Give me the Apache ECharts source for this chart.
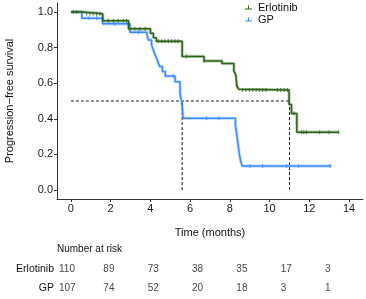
<!DOCTYPE html>
<html>
<head>
<meta charset="utf-8">
<script src="https://cdn.jsdelivr.net/npm/echarts@6/dist/echarts.min.js"></script>
<style>
  html, body { margin: 0; padding: 0; background: #fff; }
  #chart { width: 366px; height: 299px; }
</style>
</head>
<body>
<div id="chart"></div>
<script>
// Kaplan-Meier step points: [months, survival]
const erlotinibCurve = [
  [0, 1.0], [0.55, 0.99], [1.6, 0.95], [2.9, 0.905], [4.0, 0.88], [4.15, 0.855],
  [4.3, 0.835], [5.6, 0.75], [6.7, 0.725], [7.6, 0.71], [8.2, 0.67], [8.3, 0.645],
  [8.35, 0.585], [8.45, 0.566], [8.5, 0.562], [10.98, 0.48], [11.1, 0.43],
  [11.37, 0.325], [13.48, 0.325]
];
const gpCurve = [
  [0, 1.0], [0.55, 0.965], [1.6, 0.933], [2.97, 0.886], [3.83, 0.87], [3.89, 0.843],
  [4.06, 0.815], [4.14, 0.787], [4.23, 0.76], [4.31, 0.742], [4.4, 0.712], [4.48, 0.693],
  [4.6, 0.665], [4.75, 0.64], [5.24, 0.608], [5.49, 0.543], [5.57, 0.496], [5.61, 0.459],
  [5.65, 0.403], [8.28, 0.36], [8.35, 0.31], [8.42, 0.25], [8.48, 0.2], [8.55, 0.16],
  [8.62, 0.135], [13.1, 0.135]
];
// censoring times (months)
const erlotinibCensor = [
  0.12, 0.29, 0.79, 0.96, 1.12, 1.29, 1.46, 1.88, 2.13, 2.38, 2.63, 2.8,
  3.22, 3.47, 3.73, 4.4, 4.57, 4.73, 4.9, 5.07, 5.24, 5.4, 5.82, 6.7,
  8.64, 8.81, 8.98, 9.15, 9.32, 9.48, 9.65, 9.82, 10.39, 10.56, 10.73, 10.89,
  11.23, 11.6, 11.72, 11.85, 12.52, 12.99, 13.48
];
const gpCensor = [0.9, 1.3, 2.2, 3.4, 5.15, 6.83, 7.45, 9.01, 9.65, 10.86, 11.45, 13.04];
const medianTimes = [5.6, 11.0];

const xTicks = [0, 2, 4, 6, 8, 10, 12, 14];
const yTicks = [0, 0.2, 0.4, 0.6, 0.8, 1.0];

const riskTimes = [0, 2, 4, 6, 8, 10, 12];
const riskErlotinib = [110, 89, 73, 38, 35, 17, 3];
const riskGP = [107, 74, 52, 20, 18, 3, 1];

const GREEN = '#2c6119';
const BLUE = '#3d8bff';
const FONT = 'Liberation Sans, Arial, sans-serif';

function survAt(curve, t) {
  let s = curve[0][1];
  for (const p of curve) if (p[0] <= t) s = p[1];
  return s;
}

function curveSeries(name, curve, color) {
  return [{
    type: 'line', xAxisIndex: 0, yAxisIndex: 0, step: 'end', data: curve,
    showSymbol: false, silent: true,
    lineStyle: { color: color, width: 3.2, opacity: 0.3 },
    itemStyle: { color: color }
  }, {
    name: name, type: 'line', xAxisIndex: 0, yAxisIndex: 0, step: 'end', data: curve,
    showSymbol: false,
    lineStyle: { color: color, width: 1.5 },
    itemStyle: { color: color }
  }];
}

function censorSeries(curve, times, color) {
  return {
    type: 'scatter', xAxisIndex: 0, yAxisIndex: 0, silent: true,
    symbol: 'rect', symbolSize: [1, 4],
    itemStyle: { color: color, opacity: 0.8 },
    data: times.map(t => [t, survAt(curve, t)])
  };
}

function dashSeries(data) {
  return {
    type: 'line', xAxisIndex: 0, yAxisIndex: 0, data: data, silent: true,
    showSymbol: false,
    lineStyle: { color: '#000', width: 0.9, type: [3, 2] }
  };
}

function riskSeries(row, counts) {
  return {
    type: 'scatter', xAxisIndex: 1, yAxisIndex: 1, symbolSize: 0, silent: true,
    data: riskTimes.map((t, i) => [t, row, counts[i]]),
    label: {
      show: true, position: 'inside', align: 'left',
      formatter: p => String(p.value[2]),
      fontFamily: FONT, fontSize: 10, color: '#111'
    }
  };
}

const chart = echarts.init(document.getElementById('chart'));
const legendIcon = 'path://M0,6 L10,6 L10,7.4 L0,7.4 Z M4.2,2 L5.8,2 L5.8,6 L4.2,6 Z';

chart.setOption({
  animation: false,
  textStyle: { fontFamily: FONT },
  title: {
    text: 'Number at risk', left: 57, top: 244, padding: 0,
    textStyle: { fontFamily: FONT, fontSize: 10, fontWeight: 'normal', color: '#111' }
  },
  legend: {
    data: [
      { name: 'Erlotinib', icon: legendIcon, itemStyle: { color: GREEN } },
      { name: 'GP', icon: legendIcon, itemStyle: { color: BLUE } }
    ],
    orient: 'vertical', left: 245, top: 2, padding: 0,
    itemWidth: 7, itemHeight: 8, itemGap: 1,
    textStyle: { fontFamily: FONT, fontSize: 11, color: '#111', lineHeight: 10, padding: [0, 0, 0, 1] }
  },
  grid: [
    { left: 57, right: 3, top: 3, bottom: 100, outerBoundsMode: 'none', containLabel: false },
    { left: 59, right: 41, top: 260, height: 38, outerBoundsMode: 'none', containLabel: false }
  ],
  xAxis: [{
    type: 'value', gridIndex: 0, min: -0.7, max: 14.7,
    splitLine: { show: false },
    axisLine: { onZero: false, lineStyle: { color: '#333', width: 1 } },
    axisTick: { show: true, customValues: xTicks, length: 3, lineStyle: { color: '#333' } },
    axisLabel: { customValues: xTicks, fontSize: 11, color: '#1a1a1a', margin: 4, fontFamily: FONT },
    name: 'Time (months)', nameLocation: 'middle', nameGap: 28,
    nameTextStyle: { fontFamily: FONT, fontSize: 11, color: '#111' }
  }, {
    type: 'value', gridIndex: 1, min: 0, max: 12, show: false
  }],
  yAxis: [{
    type: 'value', gridIndex: 0, min: -0.05, max: 1.05,
    splitLine: { show: false },
    axisLine: { show: true, onZero: false, lineStyle: { color: '#333', width: 1 } },
    axisTick: { show: true, customValues: yTicks, length: 3, lineStyle: { color: '#333' } },
    axisLabel: {
      customValues: yTicks, fontSize: 11, color: '#1a1a1a', margin: 4, fontFamily: FONT,
      formatter: v => v.toFixed(1)
    },
    name: 'Progression\u2212free survival', nameLocation: 'middle', nameGap: 42,
    nameTextStyle: { fontFamily: FONT, fontSize: 11, color: '#111' }
  }, {
    type: 'category', gridIndex: 1, data: ['Erlotinib', 'GP'], inverse: true,
    axisLine: { show: false }, axisTick: { show: false }, splitLine: { show: false },
    axisLabel: { fontSize: 10.5, color: '#111', margin: 5, fontFamily: FONT }
  }],
  series: [
    dashSeries([[0, 0.5], [Math.max(...medianTimes), 0.5]]),
    ...medianTimes.map(m => dashSeries([[m, 0], [m, 0.5]])),
    ...curveSeries('GP', gpCurve, BLUE),
    ...curveSeries('Erlotinib', erlotinibCurve, GREEN),
    censorSeries(gpCurve, gpCensor, BLUE),
    censorSeries(erlotinibCurve, erlotinibCensor, GREEN),
    riskSeries('Erlotinib', riskErlotinib),
    riskSeries('GP', riskGP)
  ]
});
</script>
</body>
</html>
